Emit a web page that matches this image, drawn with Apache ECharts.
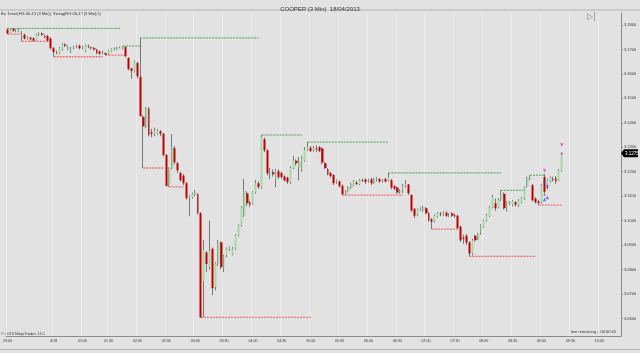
<!DOCTYPE html>
<html>
<head>
<meta charset="utf-8">
<script src="https://cdn.jsdelivr.net/npm/echarts@6/dist/echarts.min.js"></script>
<style>
html, body { margin: 0; padding: 0; background: #e2e2e2; }
#chart { width: 640px; height: 353px; }
</style>
</head>
<body>
<div id="chart"></div>
<script>
// bar times (3 min bars, thin trading before 02:00)
var earlyTimes = ['23:00', '23:03', '23:06', '23:12', '23:15', '23:18', '23:24', '23:27', '23:33', '23:36',
    '23:39', '23:42', '23:45', '23:48', '23:51', '23:57',
    '00:00', '00:06', '00:12', '00:15', '00:21', '00:27', '00:36', '00:42', '00:48', '00:54',
    '01:00', '01:03', '01:09', '01:12', '01:15', '01:18', '01:21', '01:24', '01:27',
    '01:30', '01:33', '01:36', '01:39', '01:42', '01:45', '01:48', '01:51', '01:54', '01:57']
var tickTimes = ['23:00', '00:00', '01:00', '01:30', '02:00', '02:30', '03:00', '03:30', '04:00', '04:30',
    '05:00', '05:30', '06:00', '06:30', '07:00', '07:30', '08:00', '08:30', '09:00', '09:30', '10:00']
var yTicks = [3.06, 3.07, 3.08, 3.09, 3.10, 3.11, 3.12, 3.13, 3.14, 3.15, 3.16, 3.17, 3.18]

// [open, close, low, high]
var candles = [
    [3.1782, 3.1765, 3.1763, 3.1786], [3.1770, 3.1780, 3.1768, 3.1784], [3.1785, 3.1776, 3.1772, 3.1786],
    [3.1776, 3.1778, 3.1770, 3.1782], [3.1774, 3.1784, 3.1770, 3.1786], [3.1758, 3.1762, 3.1733, 3.1775],
    [3.1760, 3.1745, 3.1740, 3.1765], [3.1745, 3.1750, 3.1740, 3.1755], [3.1748, 3.1742, 3.1736, 3.1752],
    [3.1745, 3.1735, 3.1734, 3.1750], [3.1735, 3.1760, 3.1734, 3.1765], [3.1760, 3.1765, 3.1755, 3.1770],
    [3.1765, 3.1760, 3.1755, 3.1770], [3.1755, 3.1750, 3.1745, 3.1760], [3.1755, 3.1735, 3.1734, 3.1760],
    [3.1745, 3.1705, 3.1700, 3.1750], [3.1705, 3.1690, 3.1670, 3.1710], [3.1690, 3.1688, 3.1680, 3.1695],
    [3.1685, 3.1705, 3.1680, 3.1710], [3.1700, 3.1720, 3.1695, 3.1725], [3.1720, 3.1715, 3.1710, 3.1725],
    [3.1698, 3.1710, 3.1695, 3.1715], [3.1690, 3.1705, 3.1685, 3.1710], [3.1705, 3.1708, 3.1700, 3.1715],
    [3.1710, 3.1712, 3.1705, 3.1720], [3.1715, 3.1705, 3.1700, 3.1720], [3.1705, 3.1708, 3.1700, 3.1715],
    [3.1698, 3.1715, 3.1690, 3.1720], [3.1712, 3.1710, 3.1705, 3.1720], [3.1708, 3.1705, 3.1700, 3.1712],
    [3.1705, 3.1700, 3.1695, 3.1710], [3.1700, 3.1685, 3.1680, 3.1702], [3.1692, 3.1682, 3.1678, 3.1695],
    [3.1688, 3.1690, 3.1680, 3.1695], [3.1685, 3.1678, 3.1677, 3.1688], [3.1682, 3.1695, 3.1678, 3.1700],
    [3.1692, 3.1702, 3.1688, 3.1705], [3.1700, 3.1702, 3.1695, 3.1708], [3.1700, 3.1708, 3.1698, 3.1710],
    [3.1708, 3.1710, 3.1705, 3.1712], [3.1705, 3.1712, 3.1700, 3.1714], [3.1710, 3.1672, 3.1668, 3.1712],
    [3.1665, 3.1620, 3.1615, 3.1668], [3.1622, 3.1612, 3.1580, 3.1625], [3.1612, 3.1650, 3.1605, 3.1655],
    [3.1645, 3.1590, 3.1582, 3.1650], [3.1588, 3.1428, 3.1425, 3.1747], [3.1425, 3.1385, 3.1215, 3.1430],
    [3.1383, 3.1460, 3.1378, 3.1465], [3.1458, 3.1350, 3.1345, 3.1465], [3.1360, 3.1355, 3.1340, 3.1375],
    [3.1355, 3.1365, 3.1345, 3.1380], [3.1355, 3.1368, 3.1350, 3.1375], [3.1365, 3.1355, 3.1345, 3.1370],
    [3.1355, 3.1268, 3.1262, 3.1358], [3.1268, 3.1141, 3.1140, 3.1272], [3.1145, 3.1215, 3.1138, 3.1218],
    [3.1215, 3.1300, 3.1210, 3.1354], [3.1296, 3.1239, 3.1230, 3.1305], [3.1235, 3.1206, 3.1195, 3.1240],
    [3.1195, 3.1165, 3.1160, 3.1200], [3.1183, 3.1153, 3.1145, 3.1190], [3.1153, 3.1092, 3.1085, 3.1158],
    [3.1095, 3.1100, 3.1018, 3.1105], [3.1095, 3.1110, 3.1090, 3.1115], [3.1105, 3.1118, 3.1100, 3.1125],
    [3.1108, 3.1030, 3.1025, 3.1112], [3.1030, 3.0604, 3.0604, 3.1035], [3.0752, 3.0880, 3.0606, 3.0920],
    [3.0870, 3.0822, 3.0790, 3.0875], [3.0810, 3.0875, 3.0800, 3.1000], [3.0885, 3.0723, 3.0695, 3.0890],
    [3.0728, 3.0825, 3.0715, 3.0830], [3.0825, 3.0911, 3.0815, 3.0920], [3.0911, 3.0809, 3.0800, 3.0915],
    [3.0805, 3.0854, 3.0790, 3.0860], [3.0860, 3.0885, 3.0850, 3.0890], [3.0885, 3.0890, 3.0875, 3.0895],
    [3.0862, 3.0885, 3.0858, 3.0892], [3.0885, 3.0940, 3.0880, 3.0945], [3.0940, 3.0981, 3.0935, 3.0985],
    [3.0981, 3.1055, 3.0975, 3.1060], [3.1020, 3.1124, 3.1015, 3.1170], [3.1112, 3.1071, 3.1060, 3.1120],
    [3.1075, 3.1065, 3.1055, 3.1080], [3.1070, 3.1116, 3.1065, 3.1120], [3.1116, 3.1153, 3.1110, 3.1165],
    [3.1153, 3.1137, 3.1130, 3.1160], [3.1137, 3.1341, 3.1130, 3.1350], [3.1333, 3.1288, 3.1280, 3.1340],
    [3.1288, 3.1194, 3.1185, 3.1292], [3.1195, 3.1200, 3.1170, 3.1215], [3.1198, 3.1190, 3.1180, 3.1210],
    [3.1165, 3.1206, 3.1137, 3.1212], [3.1202, 3.1178, 3.1170, 3.1210], [3.1195, 3.1178, 3.1170, 3.1200],
    [3.1180, 3.1165, 3.1160, 3.1185], [3.1175, 3.1158, 3.1150, 3.1180], [3.1158, 3.1215, 3.1150, 3.1222],
    [3.1215, 3.1247, 3.1210, 3.1265], [3.1245, 3.1235, 3.1225, 3.1250], [3.1215, 3.1240, 3.1165, 3.1260],
    [3.1210, 3.1260, 3.1200, 3.1265], [3.1245, 3.1290, 3.1240, 3.1300], [3.1290, 3.1300, 3.1285, 3.1321],
    [3.1298, 3.1285, 3.1280, 3.1305], [3.1290, 3.1295, 3.1282, 3.1305], [3.1295, 3.1292, 3.1280, 3.1308],
    [3.1300, 3.1285, 3.1280, 3.1305], [3.1295, 3.1238, 3.1230, 3.1300], [3.1235, 3.1215, 3.1210, 3.1240],
    [3.1210, 3.1190, 3.1185, 3.1215], [3.1195, 3.1182, 3.1175, 3.1200], [3.1186, 3.1153, 3.1145, 3.1190],
    [3.1158, 3.1162, 3.1150, 3.1168], [3.1160, 3.1140, 3.1135, 3.1165], [3.1143, 3.1108, 3.1104, 3.1148],
    [3.1115, 3.1118, 3.1105, 3.1125], [3.1120, 3.1135, 3.1115, 3.1140], [3.1135, 3.1150, 3.1130, 3.1155],
    [3.1145, 3.1158, 3.1140, 3.1165], [3.1155, 3.1150, 3.1145, 3.1162], [3.1150, 3.1165, 3.1145, 3.1170],
    [3.1165, 3.1163, 3.1158, 3.1172], [3.1168, 3.1158, 3.1150, 3.1172], [3.1160, 3.1162, 3.1155, 3.1170],
    [3.1168, 3.1153, 3.1145, 3.1175], [3.1155, 3.1168, 3.1150, 3.1175], [3.1168, 3.1170, 3.1160, 3.1178],
    [3.1170, 3.1160, 3.1155, 3.1175], [3.1162, 3.1163, 3.1155, 3.1170], [3.1170, 3.1160, 3.1155, 3.1175],
    [3.1165, 3.1178, 3.1160, 3.1195], [3.1165, 3.1135, 3.1128, 3.1170], [3.1140, 3.1130, 3.1125, 3.1145],
    [3.1135, 3.1115, 3.1110, 3.1140], [3.1118, 3.1122, 3.1110, 3.1128], [3.1120, 3.1145, 3.1112, 3.1150],
    [3.1145, 3.1150, 3.1135, 3.1165], [3.1148, 3.1112, 3.1105, 3.1150], [3.1105, 3.1042, 3.1035, 3.1108],
    [3.1048, 3.1020, 3.1010, 3.1050], [3.1025, 3.1045, 3.1018, 3.1050], [3.1045, 3.1048, 3.1040, 3.1055],
    [3.1040, 3.1055, 3.1035, 3.1062], [3.1050, 3.1030, 3.1025, 3.1055], [3.1030, 3.1001, 3.0995, 3.1035],
    [3.1005, 3.0995, 3.0965, 3.1010], [3.0998, 3.1020, 3.0992, 3.1025], [3.1018, 3.1030, 3.1012, 3.1035],
    [3.1028, 3.1025, 3.1018, 3.1035], [3.1025, 3.1030, 3.1018, 3.1038], [3.1032, 3.1020, 3.1015, 3.1038],
    [3.1022, 3.1024, 3.1015, 3.1030], [3.1030, 3.1020, 3.1015, 3.1035], [3.1022, 3.1018, 3.1012, 3.1028],
    [3.1020, 3.0970, 3.0966, 3.1025], [3.0975, 3.0920, 3.0912, 3.0980], [3.0930, 3.0925, 3.0905, 3.0942],
    [3.0938, 3.0910, 3.0900, 3.0945], [3.0910, 3.0865, 3.0854, 3.0915], [3.0865, 3.0920, 3.0858, 3.0925],
    [3.0938, 3.0920, 3.0915, 3.0942], [3.0925, 3.0945, 3.0920, 3.0950], [3.0948, 3.0981, 3.0942, 3.0985],
    [3.0975, 3.1000, 3.0970, 3.1005], [3.1000, 3.1022, 3.0995, 3.1028], [3.1020, 3.1055, 3.1015, 3.1060],
    [3.1055, 3.1096, 3.1050, 3.1105], [3.1070, 3.1050, 3.1040, 3.1090], [3.1055, 3.1085, 3.1050, 3.1092],
    [3.1085, 3.1110, 3.1080, 3.1124], [3.1110, 3.1050, 3.1045, 3.1115], [3.1045, 3.1075, 3.1038, 3.1080],
    [3.1072, 3.1075, 3.1065, 3.1080], [3.1065, 3.1080, 3.1058, 3.1085], [3.1075, 3.1065, 3.1058, 3.1080],
    [3.1063, 3.1082, 3.1055, 3.1088], [3.1075, 3.1092, 3.1070, 3.1098], [3.1090, 3.1135, 3.1085, 3.1140],
    [3.1140, 3.1175, 3.1135, 3.1180], [3.1172, 3.1178, 3.1165, 3.1186], [3.1145, 3.1083, 3.1078, 3.1150],
    [3.1090, 3.1075, 3.1070, 3.1095], [3.1078, 3.1072, 3.1063, 3.1085], [3.1075, 3.1145, 3.1068, 3.1150],
    [3.1178, 3.1118, 3.1110, 3.1190], [3.1135, 3.1165, 3.1128, 3.1170], [3.1160, 3.1175, 3.1155, 3.1180],
    [3.1170, 3.1168, 3.1160, 3.1180], [3.1175, 3.1160, 3.1150, 3.1182], [3.1165, 3.1205, 3.1160, 3.1210],
    [3.1205, 3.1275, 3.1200, 3.1280]
]

// swing lines: [first bar, last bar, price]
var swingHighs = [[0, 39, 3.1786], [40, 46, 3.1714], [46, 87, 3.1747], [88, 102, 3.1350],
    [104, 132, 3.1321], [132, 171, 3.1195], [171, 179, 3.1124], [181, 186, 3.1186]]
var swingLows = [[0, 5, 3.1763], [5, 15, 3.1733], [16, 33, 3.1670], [34, 41, 3.1677], [47, 54, 3.1215],
    [56, 61, 3.1138], [67, 105, 3.0604], [116, 137, 3.1104], [147, 156, 3.0965], [160, 183, 3.0854],
    [184, 192, 3.1063]]

// signal markers [bar, price]
var sellArrows = [[186, 3.1197], [192, 3.1302]]
var buyArrows = [[186, 3.1093], [187, 3.1102]]
var blueDots = [[186, 3.1155], [187, 3.1140]]
var pinkDots = [[186, 3.1105], [192, 3.1272]]

var categories = earlyTimes.slice()
function pad(n) { return (n < 10 ? '0' : '') + n }
for (var m = 120; categories.length < 213; m += 3) {
    categories.push(pad(Math.floor(m / 60)) + ':' + pad(m % 60))
}
var showTick = function(index, value) { return tickTimes.indexOf(value) >= 0 }
var lastClose = candles[candles.length - 1][1]
var font = 'Liberation Sans, Arial, sans-serif'

var series = [{
    // wicks
    type: 'candlestick',
    data: candles,
    barWidth: 1,
    silent: true,
    itemStyle: { color: '#777', color0: '#777', borderColor: '#777', borderColor0: '#777', borderWidth: 1 },
    z: 2
}, {
    // bodies
    type: 'candlestick',
    data: candles,
    barWidth: 2.4,
    silent: true,
    itemStyle: { color: '#a8d8a8', color0: '#c00000', borderWidth: 0 },
    z: 3
}]

swingHighs.forEach(function(s) {
    series.push({
        type: 'line', data: [[s[0], s[2]], [s[1], s[2]]], symbol: 'none', silent: true, z: 1,
        lineStyle: { color: '#4f9f4f', width: 1, type: [2, 1] }
    })
})
swingLows.forEach(function(s) {
    series.push({
        type: 'line', data: [[s[0], s[2]], [s[1], s[2]]], symbol: 'none', silent: true, z: 1,
        lineStyle: { color: '#f07070', width: 1.3, type: [2, 1] }
    })
})
series.push({ type: 'scatter', data: sellArrows, symbol: 'arrow', symbolRotate: 180, symbolSize: [2.5, 4], itemStyle: { color: '#e020c0' }, z: 5 })
series.push({ type: 'scatter', data: buyArrows, symbol: 'arrow', symbolSize: [2.5, 4], itemStyle: { color: '#2040e0' }, z: 5 })
series.push({ type: 'scatter', data: blueDots, symbol: 'rect', symbolSize: [1.5, 3], itemStyle: { color: '#2040e0' }, z: 5 })
series.push({ type: 'scatter', data: pinkDots, symbol: 'circle', symbolSize: 2, itemStyle: { color: '#e020c0' }, z: 5 })

var graphics = [
    { type: 'line', shape: { x1: 0, y1: 10, x2: 640, y2: 10 }, style: { stroke: '#b4b4b4', lineWidth: 1 } },
    { type: 'line', shape: { x1: 0, y1: 349.5, x2: 640, y2: 349.5 }, style: { stroke: '#b4b4b4', lineWidth: 1 } },
    { type: 'text', left: 1, top: 12, style: { text: 'BarTimer(HG 06-13 (3 Min)), Swing(HG 06-13 (3 Min),5)', fontSize: 4, fill: '#333', fontFamily: font } },
    { type: 'text', left: 1, top: 332, style: { text: '© 2013 NinjaTrader, LLC', fontSize: 4, fill: '#333', fontFamily: font } },
    { type: 'text', right: 24, top: 330, style: { text: 'Time remaining = 00:00:45', fontSize: 4, fill: '#333', fontFamily: font } },
    { type: 'text', left: 587, top: 13, style: { text: '▷|', fontSize: 8, fill: '#888', fontFamily: 'DejaVu Sans' } }
]

var option = {
    animation: false,
    backgroundColor: '#e2e2e2',
    title: {
        text: 'COOPER (3 Min)  18/04/2013',
        left: 'center',
        top: 1,
        textStyle: { fontSize: 6, fontWeight: 'normal', color: '#333', fontFamily: font }
    },
    grid: { left: 3, right: 19, top: 13, bottom: 17 },
    xAxis: {
        type: 'category',
        data: categories,
        boundaryGap: true,
        axisLine: { lineStyle: { color: '#8c8c8c' } },
        axisTick: { interval: showTick, alignWithLabel: true, length: 2, lineStyle: { color: '#8c8c8c' } },
        axisLabel: {
            interval: showTick,
            formatter: function(v) { return v === '00:00' ? '4/18' : v },
            fontSize: 3.6,
            color: '#333',
            fontFamily: font,
            margin: 3
        },
        splitLine: { show: true, interval: showTick, lineStyle: { color: '#ebebeb', width: 1 } }
    },
    yAxis: {
        type: 'value',
        position: 'right',
        min: 3.0528,
        max: 3.1849,
        axisLine: { show: true, lineStyle: { color: '#8c8c8c' } },
        axisTick: { show: true, customValues: yTicks, length: 2, lineStyle: { color: '#8c8c8c' } },
        axisLabel: {
            customValues: yTicks,
            formatter: function(v) { return v.toFixed(4) },
            fontSize: 4,
            color: '#333',
            fontFamily: font,
            margin: 3
        },
        splitLine: { show: false }
    },
    graphic: graphics,
    series: series
}

var myChart = echarts.init(document.getElementById('chart'))
myChart.setOption(option)

// current price tag on the price axis, placed through the axis scale
var priceY = myChart.convertToPixel({ yAxisIndex: 0 }, lastClose)
var axisX = myChart.getWidth() - 19
graphics.push({
    type: 'group',
    x: axisX,
    y: priceY,
    z: 100,
    children: [{
        type: 'polygon',
        z: 100,
        shape: { points: [[0, 0], [3, -4], [17, -4], [17, 4], [3, 4]] },
        style: { fill: '#000' }
    }, {
        type: 'text',
        z: 101,
        x: 4,
        y: -2.5,
        style: { text: lastClose.toFixed(4), fontSize: 4.5, fill: '#fff', fontFamily: font }
    }]
})
myChart.setOption({ graphic: graphics })
window.addEventListener('resize', function() {
    myChart.resize()
})
</script>
</body>
</html>
